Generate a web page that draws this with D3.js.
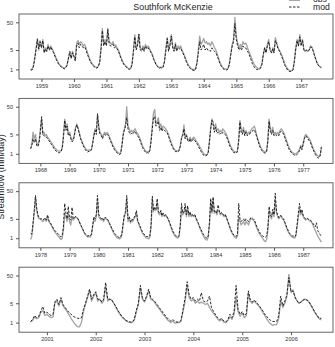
<!DOCTYPE html>
<html>
<head>
<meta charset="utf-8">
<script src="https://cdn.jsdelivr.net/npm/d3@7"></script>
<style>
  body { margin: 0; background: #fff; }
  svg { display: block; font-family: "Liberation Sans", Arial, sans-serif; }
</style>
</head>
<body>
<div class="chart"></div>
<script>
// semi-monthly values (1st and 16th of each month), water years Sep..Aug
const title = "Southfork McKenzie";
const yTicks = [1, 5, 50];
const startYears = [1958, 1967, 1977, 2000];
const tickYears1 = [1959, 1960, 1961, 1962, 1963, 1964, 1965, 1966, 1967];
const tickYears2 = [1968, 1969, 1970, 1971, 1972, 1973, 1974, 1975, 1976, 1977];
const tickYears3 = [1978, 1979, 1980, 1981, 1982, 1983, 1984, 1985, 1986, 1987];
const tickYears4 = [2001, 2002, 2003, 2004, 2005, 2006];

const obs1 = [
  1.0, 1.0, 1.3, 2.5, 6, 13, 5, 11, 6, 12, 4, 6, 4.5, 8, 5, 7, 5.5, 4.5, 3.3, 2.5, 2.0, 1.6, 1.4, 1.25,
  1.15, 1.1, 1.2, 1.5, 2.5, 4, 2.5, 4.5, 3, 2.2, 9, 11, 8, 10, 9, 7, 8, 6, 4, 3, 2.2, 1.8, 1.5, 1.3,
  1.2, 1.15, 1.3, 1.8, 6, 30, 8, 12, 8, 30, 10, 9, 8, 10, 7, 7.5, 6, 5, 3.5, 2.6, 2.0, 1.6, 1.4, 1.25,
  1.1, 1.05, 1.1, 1.6, 5, 18, 6, 8, 18, 6, 5, 7, 5, 8, 6, 7, 5.5, 4.5, 3.5, 2.5, 1.9, 1.5, 1.3, 1.15,
  1.2, 1.15, 1.3, 2.0, 6, 14, 5, 8, 18, 7, 5, 9, 5, 7, 6, 7, 5, 4, 3, 2.2, 1.7, 1.4, 1.2, 1.05,
  1.0, 0.95, 1.1, 1.8, 5, 16, 8, 10, 13, 9, 10, 8, 9, 7, 10, 8, 6, 5, 3.5, 2.5, 1.8, 1.4, 1.2, 1.05,
  1.05, 1.0, 1.1, 1.7, 4, 8, 12, 75, 15, 9, 6, 8, 6, 10, 8, 9, 7, 5, 3.8, 2.8, 2.1, 1.6, 1.35, 1.2,
  1.1, 1.05, 1.2, 1.6, 3.5, 6, 4, 8, 12, 5, 4, 6, 4, 14, 9, 6, 5, 4, 3, 2.2, 1.6, 1.3, 1.05, 0.95,
  0.9, 0.9, 1.0, 2.0, 6, 12, 7, 18, 8, 12, 5, 4.5, 5, 4.5, 5, 7, 6.5, 5, 3.2, 2.3, 1.7, 1.4, 1.25, 1.2
];
const mod1 = [
  0.95, 0.95, 1.2, 2.3, 5, 12, 5.5, 10, 6, 11, 4, 5.5, 4.5, 7, 5, 6.5, 5, 4, 3, 2.3, 1.8, 1.5, 1.3, 1.2,
  1.1, 1.05, 1.15, 1.4, 2.6, 4.5, 2.5, 4, 3, 2.0, 7, 9, 6, 8, 7, 6, 6.5, 5, 3.5, 2.6, 2.0, 1.6, 1.4, 1.25,
  1.15, 1.1, 1.25, 1.7, 5, 25, 7, 10, 7, 28, 8, 7, 7, 8, 6, 6.5, 5.5, 4.5, 3.2, 2.4, 1.8, 1.5, 1.3, 1.2,
  1.05, 1.0, 1.05, 1.5, 4.5, 15, 5, 7, 19, 5, 4.5, 6, 4.5, 7, 5.5, 6, 5, 4, 3.2, 2.3, 1.8, 1.4, 1.25, 1.1,
  1.15, 1.1, 1.2, 1.9, 5, 13, 4.5, 7, 16, 6, 4.5, 8, 4.5, 6, 5.5, 6, 4.5, 3.6, 2.7, 2.0, 1.5, 1.25, 1.1, 0.95,
  0.95, 0.9, 1.0, 1.6, 4, 10, 5, 6, 8, 5, 6, 5, 5, 4.5, 6, 5, 4.5, 4, 3, 2.2, 1.6, 1.3, 1.1, 1.0,
  1.0, 0.95, 1.05, 1.6, 3.5, 7, 10, 45, 12, 7, 5, 6, 5, 7, 6, 6, 5, 4, 3, 2.2, 1.6, 1.3, 1.1, 1.0,
  1.0, 1.0, 1.1, 1.5, 3.5, 6, 4, 7, 10, 5, 4, 5.5, 4, 11, 8, 5.5, 4.5, 3.5, 2.6, 1.9, 1.4, 1.15, 0.95, 0.85,
  0.85, 0.85, 0.95, 1.9, 5.5, 11, 7, 15, 7, 11, 5, 4.5, 5, 4.5, 5, 6.5, 6, 4.5, 3, 2.2, 1.6, 1.35, 1.2, 1.15
];

const obs2 = [
  1.6, 2.2, 6, 3.5, 5, 2.5, 2.0, 3, 8, 18, 5, 6, 4.5, 5, 4, 3.5, 3, 2.6, 2.2, 1.9, 1.6, 1.45, 1.3, 1.25,
  1.25, 1.3, 1.8, 5, 18, 8, 12, 5, 6, 4, 3, 3.5, 5, 9, 12, 9, 6, 4, 3, 2.3, 1.9, 1.6, 1.4, 1.3,
  1.4, 1.35, 1.5, 2.5, 5, 8, 6, 25, 10, 6, 5, 4, 5, 6, 5, 6, 5, 4, 3, 2.4, 1.9, 1.6, 1.35, 1.2,
  1.1, 1.0, 1.1, 2.0, 5, 8, 12, 50, 10, 8, 6, 7, 6, 7, 8, 6, 5.5, 4.5, 3.5, 2.6, 2.0, 1.6, 1.4, 1.2,
  1.2, 1.15, 1.4, 3, 10, 30, 40, 12, 15, 20, 9, 12, 8, 10, 9, 8, 7, 5.5, 4, 3, 2.3, 1.8, 1.5, 1.3,
  1.3, 1.25, 1.4, 2, 4, 5, 11, 4, 5, 3.5, 3, 4, 3, 3.5, 4, 3.5, 3, 2.6, 2.2, 1.8, 1.5, 1.25, 1.05, 0.95,
  0.9, 0.95, 1.2, 3, 9, 18, 14, 8, 12, 7, 8, 6, 7, 6, 8, 7, 6, 5, 3.8, 2.8, 2.1, 1.7, 1.4, 1.25,
  1.2, 1.15, 1.3, 3, 16, 8, 6, 9, 5, 7, 5, 6, 5.5, 7, 8, 9, 10, 7, 4.5, 3.2, 2.4, 1.8, 1.5, 1.3,
  1.2, 1.15, 1.3, 3, 18, 8, 6, 9, 5, 6, 5, 6, 5, 7, 8, 7, 6, 4.5, 3.3, 2.5, 1.9, 1.5, 1.3, 1.1,
  1.05, 1.0, 1.0, 1.1, 1.2, 1.5, 2.0, 1.6, 2.5, 4, 5, 4.5, 4, 3.5, 3, 2.2, 1.7, 1.35, 1.1, 0.95, 0.85, 0.8, 0.9, 1.6
];
const mod2 = [
  1.5, 2.0, 3.5, 2.5, 3.5, 2.0, 1.8, 2.5, 6, 22, 5, 4.5, 4, 4, 3.5, 3, 2.6, 2.2, 1.9, 1.6, 1.4, 1.25, 1.15, 1.1,
  1.1, 1.2, 1.6, 4, 16, 7, 10, 4.5, 5, 3.5, 2.7, 3, 4.5, 8, 11, 8, 5.5, 3.6, 2.7, 2.1, 1.7, 1.4, 1.25, 1.15,
  1.25, 1.2, 1.4, 2.3, 4.5, 7, 5, 28, 8, 5, 4.5, 3.5, 4.5, 5, 4.5, 5, 4.5, 3.5, 2.7, 2.1, 1.7, 1.4, 1.2, 1.1,
  1.0, 0.95, 1.0, 1.8, 4.5, 7, 10, 20, 8, 6, 5, 5.5, 5, 6, 6.5, 5, 4.5, 3.8, 3, 2.2, 1.7, 1.4, 1.2, 1.05,
  1.1, 1.05, 1.3, 2.7, 8, 20, 22, 10, 12, 15, 7, 9, 6.5, 8, 7, 6.5, 6, 4.8, 3.5, 2.6, 2.0, 1.6, 1.35, 1.2,
  1.2, 1.15, 1.3, 1.8, 3.5, 4.5, 8, 3.5, 4.5, 3, 2.7, 3.5, 2.7, 3, 3.5, 3, 2.6, 2.2, 1.8, 1.5, 1.25, 1.05, 0.9, 0.85,
  0.85, 0.9, 1.1, 2.7, 8, 16, 11, 6, 9, 5.5, 6, 5, 5.5, 5, 6, 5.5, 5, 4.2, 3.2, 2.4, 1.8, 1.5, 1.25, 1.1,
  1.1, 1.05, 1.2, 2.7, 14, 6, 5, 7, 4.5, 6, 4.5, 5, 5, 6, 6.5, 7, 7.5, 5.5, 4, 2.9, 2.1, 1.6, 1.3, 1.15,
  1.1, 1.05, 1.2, 2.7, 15, 6.5, 5, 7, 4.5, 5, 4.5, 5, 4.5, 6, 6.5, 6, 5, 3.8, 2.8, 2.1, 1.6, 1.3, 1.15, 1.0,
  0.95, 0.9, 0.85, 0.95, 1.1, 1.3, 1.8, 1.4, 2.2, 3.5, 4.5, 4, 3.5, 3, 2.6, 1.9, 1.5, 1.2, 0.95, 0.8, 0.72, 0.7, 0.85, 1.8
];

const obs3 = [
  0.9, 1.2, 3, 8, 30, 10, 6, 5, 5, 4.5, 4, 4.5, 5, 4, 6, 4, 3.5, 3, 2.4, 2.0, 1.7, 1.5, 1.3, 1.15,
  1.0, 0.9, 1.0, 2.0, 8, 6, 4, 8, 4, 3, 6, 4.5, 5, 6, 5.5, 5, 4, 3.2, 2.5, 2.0, 1.6, 1.35, 1.2, 1.1,
  1.15, 1.1, 1.3, 2.5, 5, 4, 6, 25, 6, 5, 4.5, 5, 4, 5, 5, 4.5, 4, 3.2, 2.5, 2.0, 1.6, 1.35, 1.2, 1.05,
  1.0, 0.95, 1.0, 1.3, 3, 6, 8, 25, 4, 5, 3.5, 4.5, 4, 5, 6, 8, 4, 3.2, 2.4, 1.9, 1.5, 1.3, 1.15, 1.0,
  1.0, 0.95, 1.1, 2.5, 25, 9, 12, 10, 20, 8, 7, 9, 6, 8, 6, 7, 6, 5, 3.8, 2.8, 2.1, 1.6, 1.3, 1.15,
  1.05, 1.0, 1.15, 2.5, 12, 7, 8, 13, 6, 12, 6, 8, 6, 7, 6, 7, 5, 4, 3.2, 2.4, 1.9, 1.5, 1.2, 1.0,
  0.9, 0.85, 1.1, 3, 20, 8, 25, 8, 9, 7, 10, 9, 7, 8, 7, 6, 7, 5.5, 4, 3, 2.2, 1.7, 1.4, 1.2,
  1.05, 1.0, 1.2, 6, 4, 3, 3.5, 4, 3, 4, 3.5, 3, 4, 5, 5, 4.5, 4, 3, 2.3, 1.8, 1.5, 1.25, 1.1, 0.95,
  0.8, 0.75, 0.9, 2.0, 10, 6, 5, 9, 6, 25, 8, 6, 5, 6, 6, 5, 4.5, 3.5, 2.6, 2.0, 1.6, 1.35, 1.2, 1.1,
  1.05, 1.0, 1.2, 2.5, 6, 12, 7, 9, 6, 5, 4.5, 5, 5, 4.5, 4, 3.8, 3, 2.4, 1.9, 1.5, 1.2, 1.0, 0.85, 0.72
];
const mod3 = [
  1.5, 1.4, 3.5, 10, 35, 12, 7, 5.5, 5, 5, 4.5, 5, 5.5, 4.5, 7, 4.5, 3.8, 3.2, 2.6, 2.2, 1.9, 1.7, 1.5, 1.4,
  1.2, 1.1, 1.3, 2.5, 18, 8, 5, 14, 5, 4.5, 13, 5, 5.5, 6, 5.5, 5, 4, 3.2, 2.6, 2.1, 1.7, 1.45, 1.3, 1.2,
  1.25, 1.2, 1.4, 2.8, 6, 5, 7, 35, 7, 6, 5, 5.5, 4.5, 5.5, 5.5, 5, 4.3, 3.4, 2.7, 2.2, 1.8, 1.5, 1.35, 1.2,
  1.1, 1.05, 1.1, 1.5, 3.5, 7, 9, 35, 5, 6, 4, 5, 4.5, 5.5, 6.5, 10, 4.5, 3.5, 2.7, 2.1, 1.7, 1.45, 1.3, 1.15,
  1.15, 1.1, 1.2, 3, 33, 10, 13, 11, 27, 9, 8, 10, 6.5, 8, 6.5, 7, 6, 5, 4, 3, 2.3, 1.8, 1.5, 1.3,
  1.15, 1.1, 1.25, 3, 18, 8, 9, 18, 7, 15, 7, 9, 6.5, 7, 6.5, 7, 5.5, 4.3, 3.4, 2.6, 2.1, 1.7, 1.4, 1.2,
  1.05, 1.0, 1.2, 3.5, 27, 9, 31, 9, 10, 8, 16, 10, 7.5, 8.5, 7.5, 6.5, 7, 5.5, 4.2, 3.2, 2.4, 1.9, 1.5, 1.3,
  1.2, 1.15, 1.4, 18, 5, 4, 4.5, 5, 4, 5, 4.5, 4, 4.5, 5.5, 5.5, 5, 4.5, 3.4, 2.6, 2.1, 1.7, 1.45, 1.3, 1.15,
  1.15, 1.1, 1.2, 2.5, 14, 7, 6, 11, 7, 42, 9, 7, 5.5, 6.5, 6.5, 5.5, 5, 3.8, 2.9, 2.2, 1.8, 1.5, 1.35, 1.2,
  1.2, 1.1, 1.3, 3, 8, 18, 8, 11, 6.5, 5.5, 5, 5.5, 5, 4.5, 4.5, 4, 3.5, 3, 2.6, 3.6, 1.9, 1.6, 1.35, 1.15
];

const obs4 = [
  1.05, 1.2, 1.6, 1.4, 1.5, 2.3, 2.8, 1.8, 2.0, 1.7, 1.5, 1.6, 5, 6, 4, 7, 4, 3.2, 2.5, 1.9, 1.4, 1.1, 0.85, 0.72,
  0.7, 1.0, 2.5, 4.5, 8, 15, 6, 9, 12, 6, 7, 5, 6, 20, 6, 7, 6.5, 5, 3.5, 2.6, 2.0, 1.6, 1.35, 1.15,
  1.05, 1.0, 1.0, 1.2, 2.5, 4.5, 18, 7, 5.5, 8, 14, 7, 6.5, 5.5, 4.2, 3.4, 2.7, 2.1, 1.7, 1.35, 1.15, 1.0, 1.15, 0.95,
  1.0, 1.0, 1.1, 2.5, 6, 22, 8, 6, 7, 5, 6, 5, 5.5, 5, 4.5, 5, 3.5, 2.7, 2.1, 1.7, 1.35, 1.15, 1.3, 1.05,
  1.0, 1.2, 1.6, 1.3, 2.0, 8, 2.5, 1.7, 2.2, 1.5, 1.8, 12, 6, 5, 6, 5, 4.2, 3.3, 2.5, 1.9, 1.4, 1.1, 0.9, 0.8,
  0.85, 0.85, 1.4, 6, 3.5, 5, 9, 55, 12, 15, 8, 6, 5, 5.5, 6.5, 7, 6.5, 5.5, 4, 3, 2.2, 1.7, 1.35, 1.25
];
const mod4 = [
  1.1, 1.3, 1.8, 1.5, 1.7, 2.6, 3.8, 2.2, 2.4, 2.0, 1.8, 2.0, 5.5, 7, 4.5, 8, 4.5, 3.6, 2.8, 2.3, 2.0, 1.7, 1.55, 1.45,
  1.4, 1.5, 3, 5, 9, 16, 7, 10, 13, 7, 7, 5.5, 7, 28, 7, 7, 6.5, 5, 3.8, 2.8, 2.1, 1.7, 1.4, 1.2,
  1.1, 1.05, 1.05, 1.3, 2.8, 5, 22, 8, 6, 9, 16, 8, 7, 6, 4.8, 3.8, 3.0, 2.4, 1.9, 1.55, 1.3, 1.15, 1.3, 1.1,
  1.05, 1.05, 1.2, 3, 8, 30, 10, 7, 8, 6, 7, 6, 12, 6, 5.5, 6, 9, 3.5, 2.5, 1.9, 1.5, 1.3, 1.4, 1.15,
  1.05, 1.3, 2.0, 1.5, 2.5, 22, 3, 2.0, 2.5, 1.8, 2.1, 14, 7, 5.5, 6.5, 5.5, 4.5, 3.6, 2.8, 2.1, 1.7, 1.4, 1.2, 1.1,
  1.1, 1.1, 1.8, 9, 4, 6, 10, 42, 13, 14, 8, 6, 5, 5.5, 6.5, 7, 6.5, 5.5, 4.2, 3.1, 2.3, 1.8, 1.4, 1.45
];

const width = 335;
const height = 347;
const left = 19, right = 333, panelH = 65;
const tops = [14, 98.4, 182.8, 267.2];

const panels = [
  { start: startYears[0], obs: obs1, mod: mod1, ticks: tickYears1 },
  { start: startYears[1], obs: obs2, mod: mod2, ticks: tickYears2 },
  { start: startYears[2], obs: obs3, mod: mod3, ticks: tickYears3 },
  { start: startYears[3], obs: obs4, mod: mod4, ticks: tickYears4 }
];

const svg = d3.select(".chart").append("svg")
    .attr("width", width)
    .attr("height", height);

panels.forEach((p, k) => {
    const top = tops[k];
    const dates = p.obs.map((_, i) => new Date(p.start, 8 + Math.floor(i / 2), i % 2 ? 16 : 1));
    const t0 = +dates[0], t1 = +dates[dates.length - 1];
    const pad = 0.04 * (t1 - t0);

    const xScale = d3.scaleTime()
        .domain([new Date(t0 - pad), new Date(t1 + pad)])
        .range([left, right]);
    const yScale = d3.scaleLog()
        .domain([0.45, 100])
        .range([top + panelH, top]);

    const line = d3.line()
        .x((d, i) => xScale(dates[i]))
        .y(d => yScale(d));

    const g = svg.append("g");

    g.append("path")
        .datum(p.obs)
        .attr("fill", "none")
        .attr("stroke", "#a3a3a3")
        .attr("stroke-width", 1.3)
        .attr("stroke-linejoin", "round")
        .attr("d", line);

    g.append("path")
        .datum(p.mod)
        .attr("fill", "none")
        .attr("stroke", "#111")
        .attr("stroke-width", 0.9)
        .attr("stroke-dasharray", "2.5,1.5")
        .attr("d", line);

    g.append("rect")
        .attr("x", left)
        .attr("y", top)
        .attr("width", right - left)
        .attr("height", panelH)
        .attr("fill", "none")
        .attr("stroke", "#555")
        .attr("stroke-width", 0.9);

    const xAxis = d3.axisBottom(xScale)
        .tickValues(p.ticks.map(yr => new Date(yr, 0, 1)))
        .tickFormat(d3.timeFormat("%Y"))
        .tickSize(3)
        .tickPadding(2);

    const gx = g.append("g")
        .attr("transform", `translate(0,${top + panelH})`)
        .call(xAxis);
    gx.select(".domain").remove();
    gx.selectAll("line").attr("stroke", "#555");
    gx.selectAll("text").attr("font-size", 5.6).attr("fill", "#333")
        .attr("font-family", "Liberation Sans, Arial, sans-serif");

    const yAxis = d3.axisLeft(yScale)
        .tickValues(yTicks)
        .tickFormat(d3.format("d"))
        .tickSize(3)
        .tickPadding(3);

    const gy = g.append("g")
        .attr("transform", `translate(${left},0)`)
        .call(yAxis);
    gy.select(".domain").remove();
    gy.selectAll("line").attr("stroke", "#555");
    gy.selectAll("text").attr("font-size", 5.6).attr("fill", "#333")
        .attr("font-family", "Liberation Sans, Arial, sans-serif");
});

// title
svg.append("text")
    .attr("x", 173)
    .attr("y", 9.5)
    .attr("text-anchor", "middle")
    .attr("font-size", 8.9)
    .attr("fill", "#222")
    .text(title);

// y label
svg.append("text")
    .attr("transform", "translate(4,177) rotate(-90)")
    .attr("text-anchor", "middle")
    .attr("font-size", 9)
    .attr("fill", "#222")
    .text("Streamflow (mm/day)");

// legend (top right, partly cut off)
svg.append("line")
    .attr("x1", 289).attr("x2", 300)
    .attr("y1", 0.3).attr("y2", 0.3)
    .attr("stroke", "#a3a3a3")
    .attr("stroke-width", 1.3);
svg.append("text")
    .attr("x", 313).attr("y", 1.5)
    .attr("font-size", 8.6)
    .attr("fill", "#222")
    .text("obs");
svg.append("line")
    .attr("x1", 289).attr("x2", 300)
    .attr("y1", 7).attr("y2", 7)
    .attr("stroke", "#111")
    .attr("stroke-width", 0.9)
    .attr("stroke-dasharray", "2.5,1.5");
svg.append("text")
    .attr("x", 313).attr("y", 9.5)
    .attr("font-size", 8.6)
    .attr("fill", "#222")
    .text("mod");
</script>
</body>
</html>
